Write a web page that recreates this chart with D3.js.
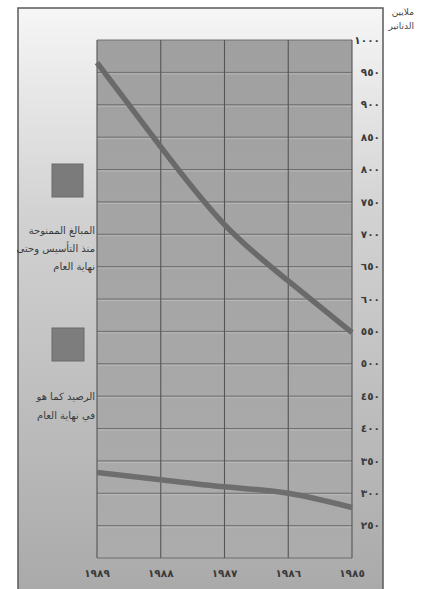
<!DOCTYPE html>
<html>
<head>
<meta charset="utf-8">
<script src="https://cdn.jsdelivr.net/npm/d3@7"></script>
<style>
  body { margin: 0; background: #fff; }
  text { font-family: "DejaVu Sans", sans-serif; }
</style>
</head>
<body>
<script>
// DATA
var years = [1989, 1988, 1987, 1986, 1985];
var granted = [965, 835, 715, 628, 548];   // المبالغ الممنوحة منذ التأسيس
var balance = [332, 321, 310, 300, 278];   // الرصيد كما هو في نهاية العام
var yTicks = [250, 300, 350, 400, 450, 500, 550, 600, 650, 700, 750, 800, 850, 900, 950, 1000];
var legend1 = ["المبالغ الممنوحة", "منذ التأسيس وحتى", "نهاية العام"];
var legend2 = ["الرصيد كما هو", "في نهاية العام"];
var unitLabel = ["ملايين", "الدنانير"];

var W = 428, H = 589;
var plot = { left: 97, right: 352, top: 40, bottom: 558 };

// arabic-indic digits
function ar(n) {
  return String(n).replace(/[0-9]/g, function (c) { return "٠١٢٣٤٥٦٧٨٩"[+c]; });
}

var svg = d3.select("body").append("svg")
  .attr("width", W)
  .attr("height", H);

var defs = svg.append("defs");
var g1 = defs.append("linearGradient").attr("id", "panelGrad")
  .attr("x1", 0).attr("y1", 0).attr("x2", 0).attr("y2", 1);
g1.append("stop").attr("offset", "0%").attr("stop-color", "#f6f6f6");
g1.append("stop").attr("offset", "35%").attr("stop-color", "#d2d2d2");
g1.append("stop").attr("offset", "100%").attr("stop-color", "#a9a9a9");

var g2 = defs.append("linearGradient").attr("id", "plotGrad")
  .attr("x1", 0).attr("y1", 0).attr("x2", 0).attr("y2", 1);
g2.append("stop").attr("offset", "0%").attr("stop-color", "#a0a0a0");
g2.append("stop").attr("offset", "100%").attr("stop-color", "#acacac");

// outer panel
svg.append("rect")
  .attr("x", 18).attr("y", 8)
  .attr("width", 365).attr("height", H)
  .attr("fill", "url(#panelGrad)")
  .attr("stroke", "#5a5a5a")
  .attr("stroke-width", 1.5);

// scales
var x = d3.scalePoint()
  .domain(years)
  .range([plot.left, plot.right]);

var y = d3.scaleLinear()
  .domain([200, 1000])
  .range([plot.bottom, plot.top]);

// plot area
svg.append("rect")
  .attr("x", plot.left).attr("y", plot.top)
  .attr("width", plot.right - plot.left)
  .attr("height", plot.bottom - plot.top)
  .attr("fill", "url(#plotGrad)");

// grid
var grid = svg.append("g");
grid.selectAll("line.hl")
  .data(d3.range(250, 1000, 50))
  .enter().append("line")
  .attr("class", "hl")
  .attr("x1", plot.left).attr("x2", plot.right)
  .attr("y1", function (d) { return y(d) + 1.5; })
  .attr("y2", function (d) { return y(d) + 1.5; })
  .attr("stroke", "#bcbcbc")
  .attr("stroke-width", 0.8);

grid.selectAll("line.h")
  .data(d3.range(200, 1001, 50))
  .enter().append("line")
  .attr("class", "h")
  .attr("x1", plot.left).attr("x2", plot.right)
  .attr("y1", function (d) { return y(d); })
  .attr("y2", function (d) { return y(d); })
  .attr("stroke", "#686868")
  .attr("stroke-width", 0.9);

grid.selectAll("line.v")
  .data(years)
  .enter().append("line")
  .attr("class", "v")
  .attr("x1", function (d) { return x(d); })
  .attr("x2", function (d) { return x(d); })
  .attr("y1", plot.top).attr("y2", plot.bottom)
  .attr("stroke", "#555")
  .attr("stroke-width", 1.1);

// lines
var line = d3.line()
  .x(function (d, i) { return x(years[i]); })
  .y(function (d) { return y(d); })
  .curve(d3.curveNatural);

svg.append("path")
  .datum(granted)
  .attr("d", line)
  .attr("fill", "none")
  .attr("stroke", "#6a6a6a")
  .attr("stroke-width", 5.5);

svg.append("path")
  .datum(balance)
  .attr("d", line)
  .attr("fill", "none")
  .attr("stroke", "#6e6e6e")
  .attr("stroke-width", 5.5);

// right axis labels
svg.append("g").selectAll("text")
  .data(yTicks)
  .enter().append("text")
  .attr("x", 380)
  .attr("y", function (d) { return y(d); })
  .attr("dy", "0.35em")
  .attr("text-anchor", "end")
  .attr("font-size", 10.5)
  .attr("font-weight", "bold")
  .attr("fill", "#3a3a3a")
  .text(function (d) { return ar(d); });

// x labels
svg.append("g").selectAll("text")
  .data(years)
  .enter().append("text")
  .attr("x", function (d) { return x(d); })
  .attr("y", 577)
  .attr("text-anchor", "middle")
  .attr("font-size", 10.5)
  .attr("font-weight", "bold")
  .attr("fill", "#3a3a3a")
  .text(function (d) { return ar(d); });

// unit label
svg.append("g").selectAll("text")
  .data(unitLabel)
  .enter().append("text")
  .attr("x", 414)
  .attr("y", function (d, i) { return 15 + i * 14; })
  .attr("text-anchor", "end")
  .attr("font-size", 9)
  .attr("fill", "#444")
  .text(function (d) { return d; });

// legend
svg.append("rect")
  .attr("x", 52).attr("y", 164)
  .attr("width", 31).attr("height", 33)
  .attr("fill", "#7b7b7b")
  .attr("stroke", "#6a6a6a");

svg.append("rect")
  .attr("x", 52).attr("y", 328)
  .attr("width", 32).attr("height", 33)
  .attr("fill", "#7d7d7d")
  .attr("stroke", "#6a6a6a");

svg.append("g").selectAll("text")
  .data(legend1)
  .enter().append("text")
  .attr("x", 95)
  .attr("y", function (d, i) { return 234 + i * 18; })
  .attr("text-anchor", "end")
  .attr("font-size", 10)
  .attr("fill", "#3a3a3a")
  .text(function (d) { return d; });

svg.append("g").selectAll("text")
  .data(legend2)
  .enter().append("text")
  .attr("x", 95)
  .attr("y", function (d, i) { return 400 + i * 19; })
  .attr("text-anchor", "end")
  .attr("font-size", 10)
  .attr("fill", "#3a3a3a")
  .text(function (d) { return d; });
</script>
</body>
</html>
